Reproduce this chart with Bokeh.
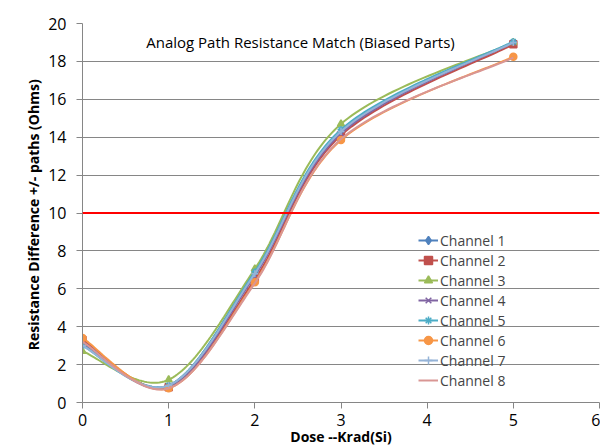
import numpy as np
from bokeh.plotting import figure
from bokeh.models import Range1d, Span, Label, Legend, LegendItem, SingleIntervalTicker
from bokeh.embed import file_html
from bokeh.resources import INLINE

dose = [0, 1, 2, 3, 5]
ch1 = [3.1, 0.9, 6.9, 14.3, 19.0]
ch2 = [3.3, 0.8, 6.5, 14.1, 18.9]
ch3 = [2.7, 1.2, 7.05, 14.7, 19.0]
ch4 = [3.2, 0.8, 6.7, 14.2, 19.0]
ch5 = [3.0, 0.9, 6.9, 14.4, 19.05]
ch6 = [3.4, 0.75, 6.35, 13.85, 18.25]
ch7 = [3.0, 0.9, 6.8, 14.3, 19.0]
ch8 = [3.2, 0.75, 6.3, 13.9, 18.2]
names = ["Channel 1", "Channel 2", "Channel 3", "Channel 4",
         "Channel 5", "Channel 6", "Channel 7", "Channel 8"]
series = [ch1, ch2, ch3, ch4, ch5, ch6, ch7, ch8]
colors = ["#4F81BD", "#C0504D", "#9BBB59", "#8064A2",
          "#4BACC6", "#F79646", "#95B3D7", "#D99694"]
markers = ["diamond", "square", "triangle", "x", "asterisk", "circle", "cross", None]
limit = 10


def smooth(xs, ys, n=40):
    P = np.column_stack([np.asarray(xs, float), np.asarray(ys, float)])
    out = []
    m = len(P)
    for i in range(m - 1):
        p0 = P[i - 1] if i > 0 else P[i]
        p1, p2 = P[i], P[i + 1]
        p3 = P[i + 2] if i + 2 < m else P[i + 1]
        c1 = p1 + (p2 - p0) / 6.0
        c2 = p2 - (p3 - p1) / 6.0
        t = np.linspace(0, 1, n)[:, None]
        seg = ((1 - t) ** 3) * p1 + 3 * ((1 - t) ** 2) * t * c1 + 3 * (1 - t) * t ** 2 * c2 + t ** 3 * p2
        out.append(seg if i == 0 else seg[1:])
    s = np.vstack(out)
    return s[:, 0], s[:, 1]


p = figure(width=600, height=448, output_backend="svg", toolbar_location=None,
           x_range=Range1d(0, 6), y_range=Range1d(0, 20))
p.min_border_left = 82
p.min_border_right = 1
p.min_border_top = 23
p.min_border_bottom = 45
p.outline_line_color = None
p.background_fill_color = "white"
p.border_fill_color = "white"

FONT = "Open Sans"
for ax in (p.xaxis[0], p.yaxis[0]):
    ax.axis_line_color = "#868686"
    ax.major_tick_line_color = "#868686"
    ax.minor_tick_line_color = None
    ax.major_tick_in = 0
    ax.major_tick_out = 6
    ax.major_label_text_font = FONT
    ax.major_label_text_font_size = "16px"
    ax.major_label_text_color = "black"
    ax.axis_label_text_font = FONT
    ax.axis_label_text_font_style = "bold"
    ax.axis_label_text_font_size = "14px"
    ax.axis_label_text_color = "black"
p.xaxis[0].ticker = SingleIntervalTicker(interval=1)
p.yaxis[0].ticker = SingleIntervalTicker(interval=2)
p.xaxis[0].major_label_standoff = 5
p.yaxis[0].major_label_standoff = 10
p.yaxis[0].axis_label = "Resistance Difference  +/- paths (Ohms)"
p.yaxis[0].axis_label_standoff = 2
p.xaxis[0].axis_label = "Dose --Krad(Si)"
p.xaxis[0].axis_label_standoff = -2

p.xgrid.grid_line_color = None
p.ygrid.grid_line_color = "#868686"
p.ygrid.grid_line_width = 1

p.add_layout(Span(location=limit, dimension="width", line_color="#FF0000", line_width=2))

items = []
for name, ys, c, mk in zip(names, series, colors, markers):
    sx, sy = smooth(dose, ys)
    r_line = p.line(sx, sy, line_color=c, line_width=2)
    rs = [r_line]
    if mk is not None:
        r_m = p.scatter(dose, ys, marker=mk, size=7, fill_color=c, line_color=c, line_width=1.5)
        rs.append(r_m)
    items.append(LegendItem(label=name, renderers=rs))

legend = Legend(items=items, location=(336, 12))
legend.label_text_font = FONT
legend.label_text_font_size = "14px"
legend.label_height = 20
legend.glyph_height = 20
legend.glyph_width = 20
legend.spacing = 0
legend.padding = 0
legend.margin = 0
legend.label_standoff = 2
legend.background_fill_alpha = 0
legend.border_line_color = None
p.add_layout(legend)

p.add_layout(Label(x=2.53, y=19.05, text="Analog Path Resistance Match (Biased Parts)",
                   text_font=FONT, text_font_size="15px", text_align="center",
                   text_baseline="middle", text_color="black"))

open("out.html", "w").write(file_html(p, INLINE))
